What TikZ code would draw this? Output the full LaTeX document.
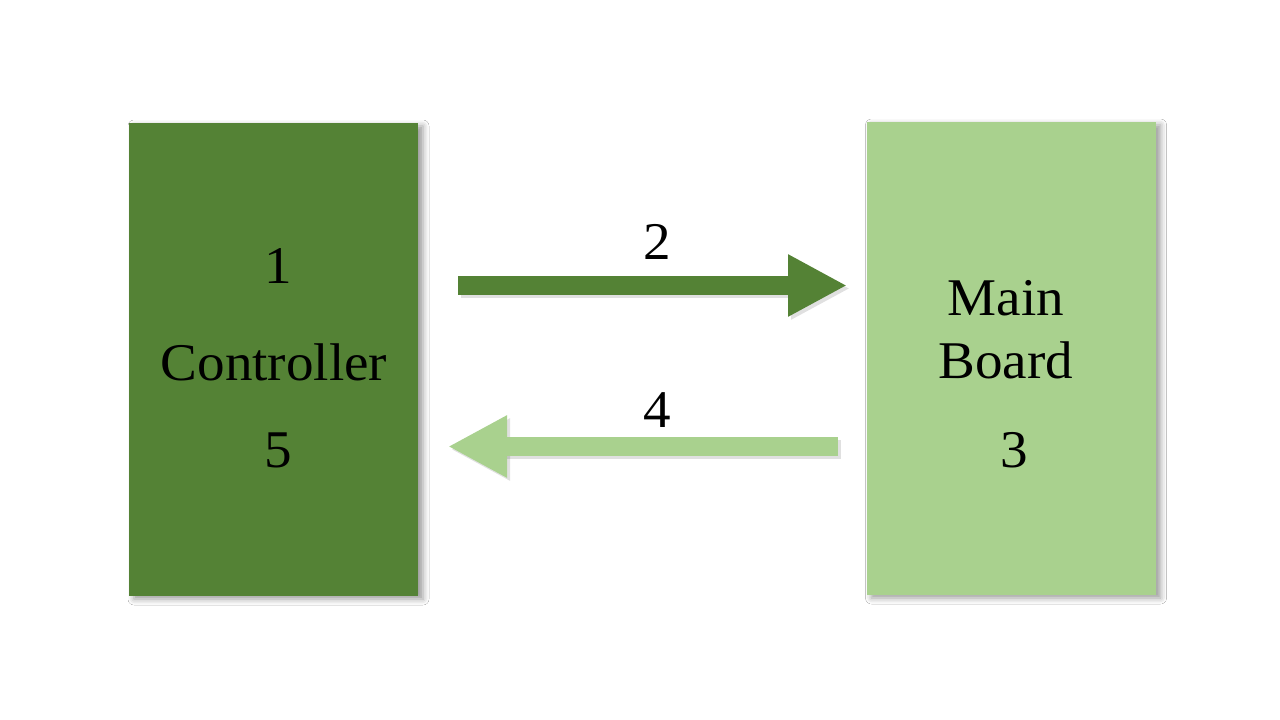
\documentclass[tikz,border=0pt]{standalone}
\usepackage{fontspec}
\setmainfont{Liberation Serif}[FakeStretch=1.04]
\usetikzlibrary{arrows.meta,shadows.blur}
\definecolor{dkgreen}{HTML}{548235}
\definecolor{ltgreen}{HTML}{A9D18E}
\tikzset{
  box/.style={rectangle, draw=none, inner sep=0pt, minimum width=289pt, minimum height=473pt,
    blur shadow={shadow xshift=5pt, shadow yshift=-3pt, shadow blur radius=6pt, shadow opacity=40}},
  lbl/.style={font=\fontsize{53}{63}\selectfont, text=black, inner sep=0pt, anchor=base},
  bigarrow/.style={line width=19pt, -{Triangle[length=59pt,width=58pt]}},
  arrshadow/.style={line width=19pt, -{Triangle[length=59pt,width=58pt]}, draw=black, opacity=0.12}
}
\begin{document}
\begin{tikzpicture}[x=1pt,y=-1pt]
\useasboundingbox[fill=white] (0,0) rectangle (1280,720);
\node[box, fill=dkgreen] (ctrl) at (273.5,359.5) {};
\node[box, fill=ltgreen] (mb) at (1011,358.5) {};
\node[lbl] (t1) at (278,283) {1};
\node[lbl] (tc) at (274,380) {Controller};
\node[lbl] (t5) at (278,467) {5};
\node[lbl] (tm) at (1006,315) {Main};
\node[lbl] (tb) at (1006,378) {Board};
\node[lbl] (t3) at (1014,467) {3};
\node[lbl] (t2) at (657,259) {2};
\node[lbl] (t4) at (657,427) {4};
\coordinate (a1s) at (458,285.5);
\coordinate (a1e) at (847,285.5);
\coordinate (a2s) at (838,446.5);
\coordinate (a2e) at (448,446.5);
\begin{scope}[transform canvas={xshift=3pt,yshift=-3pt}]
\draw[arrshadow] (a1s) -- (a1e);
\draw[arrshadow] (a2s) -- (a2e);
\end{scope}
\draw[bigarrow, draw=dkgreen] (a1s) -- (a1e);
\draw[bigarrow, draw=ltgreen] (a2s) -- (a2e);
\end{tikzpicture}
\end{document}
